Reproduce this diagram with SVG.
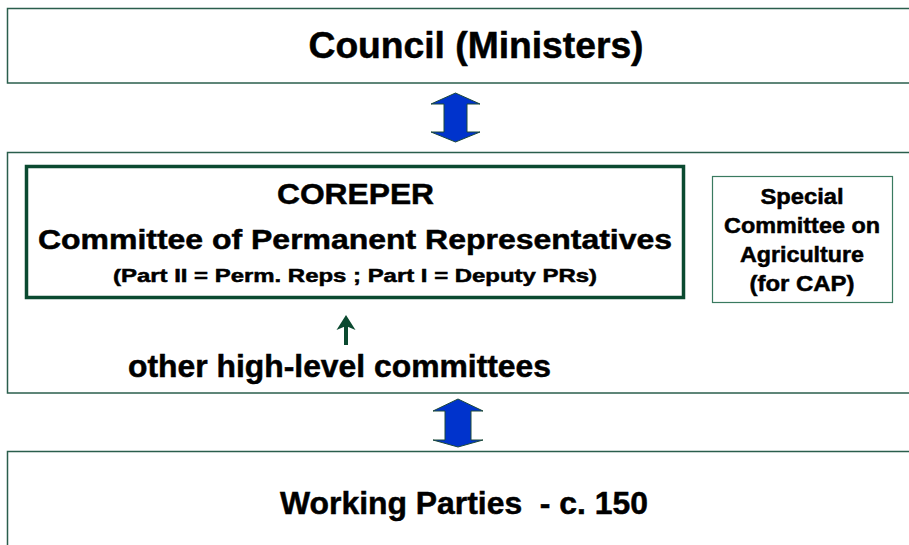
<svg xmlns="http://www.w3.org/2000/svg" width="909" height="545" viewBox="0 0 909 545">
<style>
.frame{fill:#fff;stroke:#2a5e4c;stroke-width:1.5}
.t{font-family:"Liberation Sans",Arial,sans-serif;font-weight:bold;fill:#000;stroke:#000;stroke-width:0.5;text-anchor:middle}
.big{fill:#0033cc;stroke:#1d4a3a;stroke-width:1}
</style>
<rect width="909" height="545" fill="#fff"/>
<g id="council">
<rect class="frame" x="7.5" y="8.5" width="910" height="74.5"/>
<text class="t" x="476" y="58" font-size="36" textLength="335" lengthAdjust="spacingAndGlyphs">Council (Ministers)</text>
</g>
<g id="middle">
<rect class="frame" x="7.5" y="152.5" width="910" height="240.5"/>
</g>
<g id="coreper">
<rect x="26.5" y="166.5" width="657" height="131" fill="#fff" stroke="#0b4a30" stroke-width="3.5"/>
<text class="t" x="355.5" y="204" font-size="30" textLength="157" lengthAdjust="spacingAndGlyphs">COREPER</text>
<text class="t" x="355" y="249" font-size="28" textLength="634" lengthAdjust="spacingAndGlyphs">Committee of Permanent Representatives</text>
<text class="t" x="355" y="282" font-size="19" textLength="484" lengthAdjust="spacingAndGlyphs">(Part II = Perm. Reps ; Part I = Deputy PRs)</text>
</g>
<g id="special">
<rect x="712.5" y="176.5" width="180" height="126" fill="#fff" stroke="#3a7a60" stroke-width="1.2"/>
<text class="t" x="802" y="204" font-size="22" textLength="83" lengthAdjust="spacingAndGlyphs">Special</text>
<text class="t" x="802" y="233" font-size="22" textLength="156" lengthAdjust="spacingAndGlyphs">Committee on</text>
<text class="t" x="802" y="262" font-size="22" textLength="124" lengthAdjust="spacingAndGlyphs">Agriculture</text>
<text class="t" x="802" y="291" font-size="22" textLength="105" lengthAdjust="spacingAndGlyphs">(for CAP)</text>
</g>
<g id="others">
<text class="t" x="339.5" y="377" font-size="31" textLength="423" lengthAdjust="spacingAndGlyphs">other high-level committees</text>
</g>
<g id="working">
<rect class="frame" x="7.5" y="451.5" width="910" height="110"/>
<text class="t" x="464" y="514" font-size="32" textLength="368" lengthAdjust="spacingAndGlyphs" xml:space="preserve">Working Parties  - c. 150</text>
</g>
<g id="connectors">
<path class="big" d="M455.5 93 L480 104 L467 104 L467 132 L480 132 L455.5 142 L431 132 L444 132 L444 104 L431 104 Z"/>
<path class="big" d="M458 399 L483 411 L471 411 L471 440 L483 440 L458 447 L433 440 L445 440 L445 411 L433 411 Z"/>
<line x1="346" y1="345" x2="346" y2="324" stroke="#0b4a30" stroke-width="4"/>
<path d="M346 315 L355.5 330 L346 326 L336.5 330 Z" fill="#0b4a30"/>
</g>
</svg>
